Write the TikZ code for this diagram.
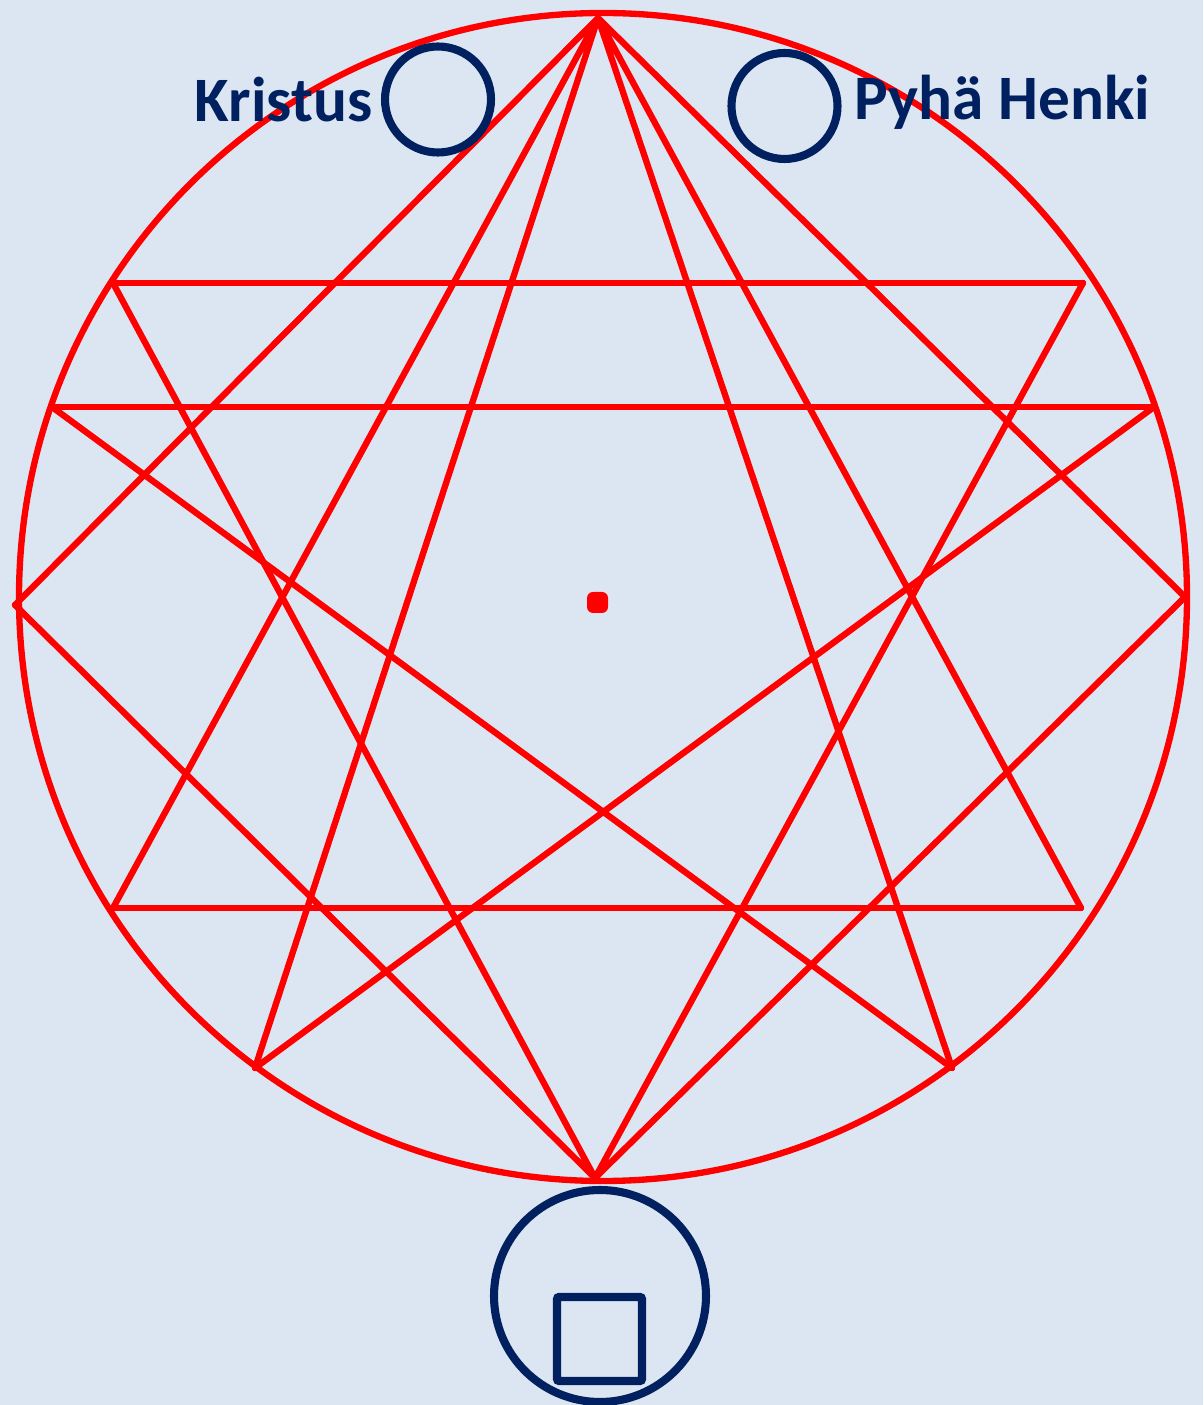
\documentclass[tikz,border=0pt]{standalone}
\usepackage{fontspec}
\setmainfont{Carlito}
\usepackage{tikz}
\usepackage{tkz-euclide}
\definecolor{bgblue}{HTML}{DCE6F2}
\definecolor{darknavy}{HTML}{002060}

\begin{document}
\begin{tikzpicture}[
    redline/.style={red,line width=1.8pt,line cap=round,line join=round},
    navyline/.style={darknavy,line width=2.3pt},
    personlabel/.style={text=darknavy,font=\fontsize{18}{20}\selectfont\bfseries,inner sep=0pt}]
  \fill[bgblue] (0,0) rectangle (12.03,14.05);
  \useasboundingbox (0,0) rectangle (12.03,14.05);

  \tkzDefPoints{6.03/8.08/O,5.98/13.87/T,0.15/8.00/L,11.85/8.08/R,5.95/2.27/B}
  \tkzDefPoints{1.13/11.22/UL,10.83/11.22/UR,0.52/9.98/ML,11.54/9.98/MR}
  \tkzDefPoints{1.13/4.97/LL,10.81/4.97/LR,2.55/3.37/BL,9.52/3.37/BR}

  \draw[redline] (O) circle (5.84);
  \draw[redline] (T) -- (L) (T) -- (R) (T) -- (LL) (T) -- (LR) (T) -- (BL) (T) -- (BR);
  \draw[redline] (B) -- (L) (B) -- (R) (B) -- (UL) (B) -- (UR);
  \draw[redline] (UL) -- (UR) (ML) -- (MR) (LL) -- (LR);
  \draw[redline] (ML) -- (BR) (MR) -- (BL);
  \fill[red,rounded corners=0.06cm] (5.87,7.92) rectangle (6.08,8.13);

  \draw[navyline] (4.38,13.055) circle (0.53);
  \draw[navyline] (7.845,12.99) circle (0.53);
  \draw[navyline] (6.00,1.09) circle (1.06);
  \draw[navyline,rounded corners=0.02cm] (5.57,1.08) rectangle (6.42,0.24);
  \node[personlabel,anchor=base east] (kristus) at (3.73,12.83) {Kristus};
  \node[personlabel,anchor=base west] (henki) at (8.54,12.85) {Pyhä Henki};
\end{tikzpicture}
\end{document}
